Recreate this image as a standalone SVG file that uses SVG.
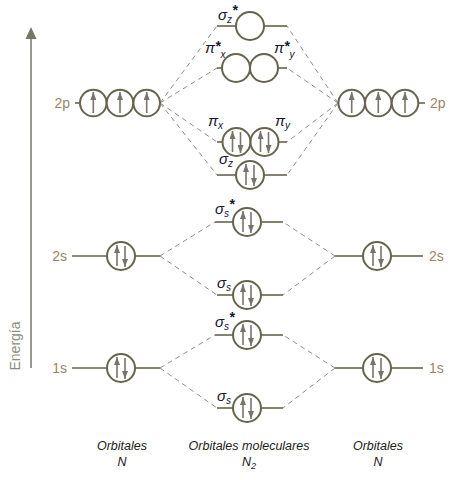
<svg xmlns="http://www.w3.org/2000/svg" width="457" height="480" viewBox="0 0 457 480">
<defs>
<marker id="ah" viewBox="0 0 8 6" refX="8" refY="3" markerWidth="8" markerHeight="6" orient="auto" markerUnits="userSpaceOnUse">
<path d="M0,0 L8,3 L0,6 z" fill="#77756a"/>
</marker>
</defs>
<style>
.orb{fill:#fff;stroke:#66634f;stroke-width:2}
.lvl{stroke:#66634f;stroke-width:1.6;fill:none}
.dash{stroke:#8e8e8e;stroke-width:1;stroke-dasharray:5 4;fill:none}
.ar{stroke:#77756a;stroke-width:1.6;fill:none}
.al{font-family:"Liberation Sans",Arial,sans-serif;font-size:14px;fill:#9a8468}
.ml{font-family:"Liberation Sans",Arial,sans-serif;font-style:italic;font-size:15px;fill:#151530}
.sb{font-size:10px}
.st{font-size:14px;font-weight:bold}
.bl{font-family:"Liberation Sans",Arial,sans-serif;font-style:italic;font-size:12.5px;fill:#1a1a1a;text-anchor:middle}
</style>

<g id="axis">
<line x1="31" y1="38" x2="31" y2="368" stroke="#77766a" stroke-width="1.5"/>
<path d="M31,27 L25.5,39 L36.5,39 z" fill="#77766a"/>
<text transform="translate(20,346) rotate(-90)" text-anchor="middle" font-family="Liberation Sans, Arial, sans-serif" font-size="14" fill="#8c8c7c">Energía</text>
</g>

<g id="connectors">
<path class="dash" d="M160,103 L217,26 M160,103 L217,68 M160,103 L217,142 M160,103 L217,175"/>
<path class="dash" d="M338,103 L287,26 M338,103 L287,68 M338,103 L287,142 M338,103 L287,175"/>
<path class="dash" d="M160,256 L215,222 M160,256 L217,295 M335,256 L283,222 M335,256 L283,295"/>
<path class="dash" d="M160,368 L215,335 M160,368 L217,408 M335,368 L283,335 M335,368 L283,408"/>
</g>

<g id="N-left-2p">
<line class="lvl" x1="75" y1="103" x2="80" y2="103"/>
<circle class="orb" cx="93.3" cy="103" r="13.3"/>
<circle class="orb" cx="120" cy="103" r="13.3"/>
<circle class="orb" cx="146.7" cy="103" r="13.3"/>
<line class="ar" x1="93.3" y1="113" x2="93.3" y2="92" marker-end="url(#ah)"/>
<line class="ar" x1="120" y1="113" x2="120" y2="92" marker-end="url(#ah)"/>
<line class="ar" x1="146.7" y1="113" x2="146.7" y2="92" marker-end="url(#ah)"/>
<text class="al" x="70" y="108" text-anchor="end">2p</text>
</g>

<g id="N-left-2s">
<line class="lvl" x1="72" y1="256" x2="107" y2="256"/>
<line class="lvl" x1="135" y1="256" x2="160" y2="256"/>
<circle class="orb" cx="121" cy="256" r="14"/>
<line class="ar" x1="117" y1="266" x2="117" y2="245" marker-end="url(#ah)"/>
<line class="ar" x1="125" y1="246" x2="125" y2="267" marker-end="url(#ah)"/>
<text class="al" x="67" y="261" text-anchor="end">2s</text>
</g>

<g id="N-left-1s">
<line class="lvl" x1="72" y1="368" x2="107" y2="368"/>
<line class="lvl" x1="135" y1="368" x2="160" y2="368"/>
<circle class="orb" cx="121" cy="368" r="14"/>
<line class="ar" x1="117" y1="378" x2="117" y2="357" marker-end="url(#ah)"/>
<line class="ar" x1="125" y1="358" x2="125" y2="379" marker-end="url(#ah)"/>
<text class="al" x="67" y="373" text-anchor="end">1s</text>
</g>

<g id="N-right-2p">
<line class="lvl" x1="418" y1="103" x2="425" y2="103"/>
<circle class="orb" cx="351.7" cy="103" r="13.3"/>
<circle class="orb" cx="378.3" cy="103" r="13.3"/>
<circle class="orb" cx="405" cy="103" r="13.3"/>
<line class="ar" x1="351.7" y1="113" x2="351.7" y2="92" marker-end="url(#ah)"/>
<line class="ar" x1="378.3" y1="113" x2="378.3" y2="92" marker-end="url(#ah)"/>
<line class="ar" x1="405" y1="113" x2="405" y2="92" marker-end="url(#ah)"/>
<text class="al" x="430" y="108">2p</text>
</g>

<g id="N-right-2s">
<line class="lvl" x1="335" y1="256" x2="363" y2="256"/>
<line class="lvl" x1="391" y1="256" x2="423" y2="256"/>
<circle class="orb" cx="377" cy="256" r="14"/>
<line class="ar" x1="373" y1="266" x2="373" y2="245" marker-end="url(#ah)"/>
<line class="ar" x1="381" y1="246" x2="381" y2="267" marker-end="url(#ah)"/>
<text class="al" x="429" y="261">2s</text>
</g>

<g id="N-right-1s">
<line class="lvl" x1="335" y1="368" x2="363" y2="368"/>
<line class="lvl" x1="391" y1="368" x2="423" y2="368"/>
<circle class="orb" cx="377" cy="368" r="14"/>
<line class="ar" x1="373" y1="378" x2="373" y2="357" marker-end="url(#ah)"/>
<line class="ar" x1="381" y1="358" x2="381" y2="379" marker-end="url(#ah)"/>
<text class="al" x="429" y="373">1s</text>
</g>

<g id="MO-sigma-z-star">
<line class="lvl" x1="217" y1="26" x2="236" y2="26"/>
<line class="lvl" x1="264" y1="26" x2="287" y2="26"/>
<circle class="orb" cx="250" cy="26" r="14"/>
<text class="ml" x="218" y="20">σ<tspan class="sb" dy="3">z</tspan><tspan class="st" dy="-8">*</tspan></text>
</g>

<g id="MO-pi-star">
<line class="lvl" x1="217" y1="68" x2="222" y2="68"/>
<line class="lvl" x1="278" y1="68" x2="287" y2="68"/>
<circle class="orb" cx="236" cy="68" r="14"/>
<circle class="orb" cx="264" cy="68" r="14"/>
<text class="ml" x="205" y="53">π<tspan class="st" dy="-2">*</tspan><tspan class="sb" dy="7">x</tspan></text>
<text class="ml" x="274" y="53">π<tspan class="st" dy="-2">*</tspan><tspan class="sb" dy="7">y</tspan></text>
</g>

<g id="MO-pi">
<line class="lvl" x1="217" y1="142" x2="223" y2="142"/>
<line class="lvl" x1="278" y1="142" x2="287" y2="142"/>
<circle class="orb" cx="236.5" cy="142" r="14"/>
<circle class="orb" cx="264.5" cy="142" r="14"/>
<line class="ar" x1="232.5" y1="152" x2="232.5" y2="131" marker-end="url(#ah)"/>
<line class="ar" x1="240.5" y1="132" x2="240.5" y2="153" marker-end="url(#ah)"/>
<line class="ar" x1="260.5" y1="152" x2="260.5" y2="131" marker-end="url(#ah)"/>
<line class="ar" x1="268.5" y1="132" x2="268.5" y2="153" marker-end="url(#ah)"/>
<text class="ml" x="208" y="126">π<tspan class="sb" dy="3">x</tspan></text>
<text class="ml" x="275" y="126">π<tspan class="sb" dy="3">y</tspan></text>
</g>

<g id="MO-sigma-z">
<line class="lvl" x1="217" y1="175" x2="236" y2="175"/>
<line class="lvl" x1="264" y1="175" x2="287" y2="175"/>
<circle class="orb" cx="250" cy="175" r="14"/>
<line class="ar" x1="246" y1="185" x2="246" y2="164" marker-end="url(#ah)"/>
<line class="ar" x1="254" y1="165" x2="254" y2="186" marker-end="url(#ah)"/>
<text class="ml" x="219" y="164">σ<tspan class="sb" dy="3">z</tspan></text>
</g>

<g id="MO-sigma-2s-star">
<line class="lvl" x1="215" y1="222" x2="233" y2="222"/>
<line class="lvl" x1="261" y1="222" x2="283" y2="222"/>
<circle class="orb" cx="247" cy="222" r="14"/>
<line class="ar" x1="243" y1="232" x2="243" y2="211" marker-end="url(#ah)"/>
<line class="ar" x1="251" y1="212" x2="251" y2="233" marker-end="url(#ah)"/>
<text class="ml" x="215" y="214">σ<tspan class="sb" dy="3">s</tspan><tspan class="st" dy="-8">*</tspan></text>
</g>

<g id="MO-sigma-2s">
<line class="lvl" x1="217" y1="295" x2="233" y2="295"/>
<line class="lvl" x1="261" y1="295" x2="283" y2="295"/>
<circle class="orb" cx="247" cy="295" r="14"/>
<line class="ar" x1="243" y1="305" x2="243" y2="284" marker-end="url(#ah)"/>
<line class="ar" x1="251" y1="285" x2="251" y2="306" marker-end="url(#ah)"/>
<text class="ml" x="217" y="288">σ<tspan class="sb" dy="3">s</tspan></text>
</g>

<g id="MO-sigma-1s-star">
<line class="lvl" x1="215" y1="335" x2="233" y2="335"/>
<line class="lvl" x1="261" y1="335" x2="283" y2="335"/>
<circle class="orb" cx="247" cy="335" r="14"/>
<line class="ar" x1="243" y1="345" x2="243" y2="324" marker-end="url(#ah)"/>
<line class="ar" x1="251" y1="325" x2="251" y2="346" marker-end="url(#ah)"/>
<text class="ml" x="215" y="327">σ<tspan class="sb" dy="3">s</tspan><tspan class="st" dy="-8">*</tspan></text>
</g>

<g id="MO-sigma-1s">
<line class="lvl" x1="217" y1="408" x2="233" y2="408"/>
<line class="lvl" x1="261" y1="408" x2="283" y2="408"/>
<circle class="orb" cx="247" cy="408" r="14"/>
<line class="ar" x1="243" y1="418" x2="243" y2="397" marker-end="url(#ah)"/>
<line class="ar" x1="251" y1="398" x2="251" y2="419" marker-end="url(#ah)"/>
<text class="ml" x="217" y="401">σ<tspan class="sb" dy="3">s</tspan></text>
</g>

<g id="captions">
<text class="bl" x="122" y="450">Orbitales</text>
<text class="bl" x="122" y="466">N</text>
<text class="bl" x="249" y="450">Orbitales moleculares</text>
<text class="bl" x="249" y="466">N<tspan font-size="9" dy="3">2</tspan></text>
<text class="bl" x="378" y="450">Orbitales</text>
<text class="bl" x="378" y="466">N</text>
</g>
</svg>
